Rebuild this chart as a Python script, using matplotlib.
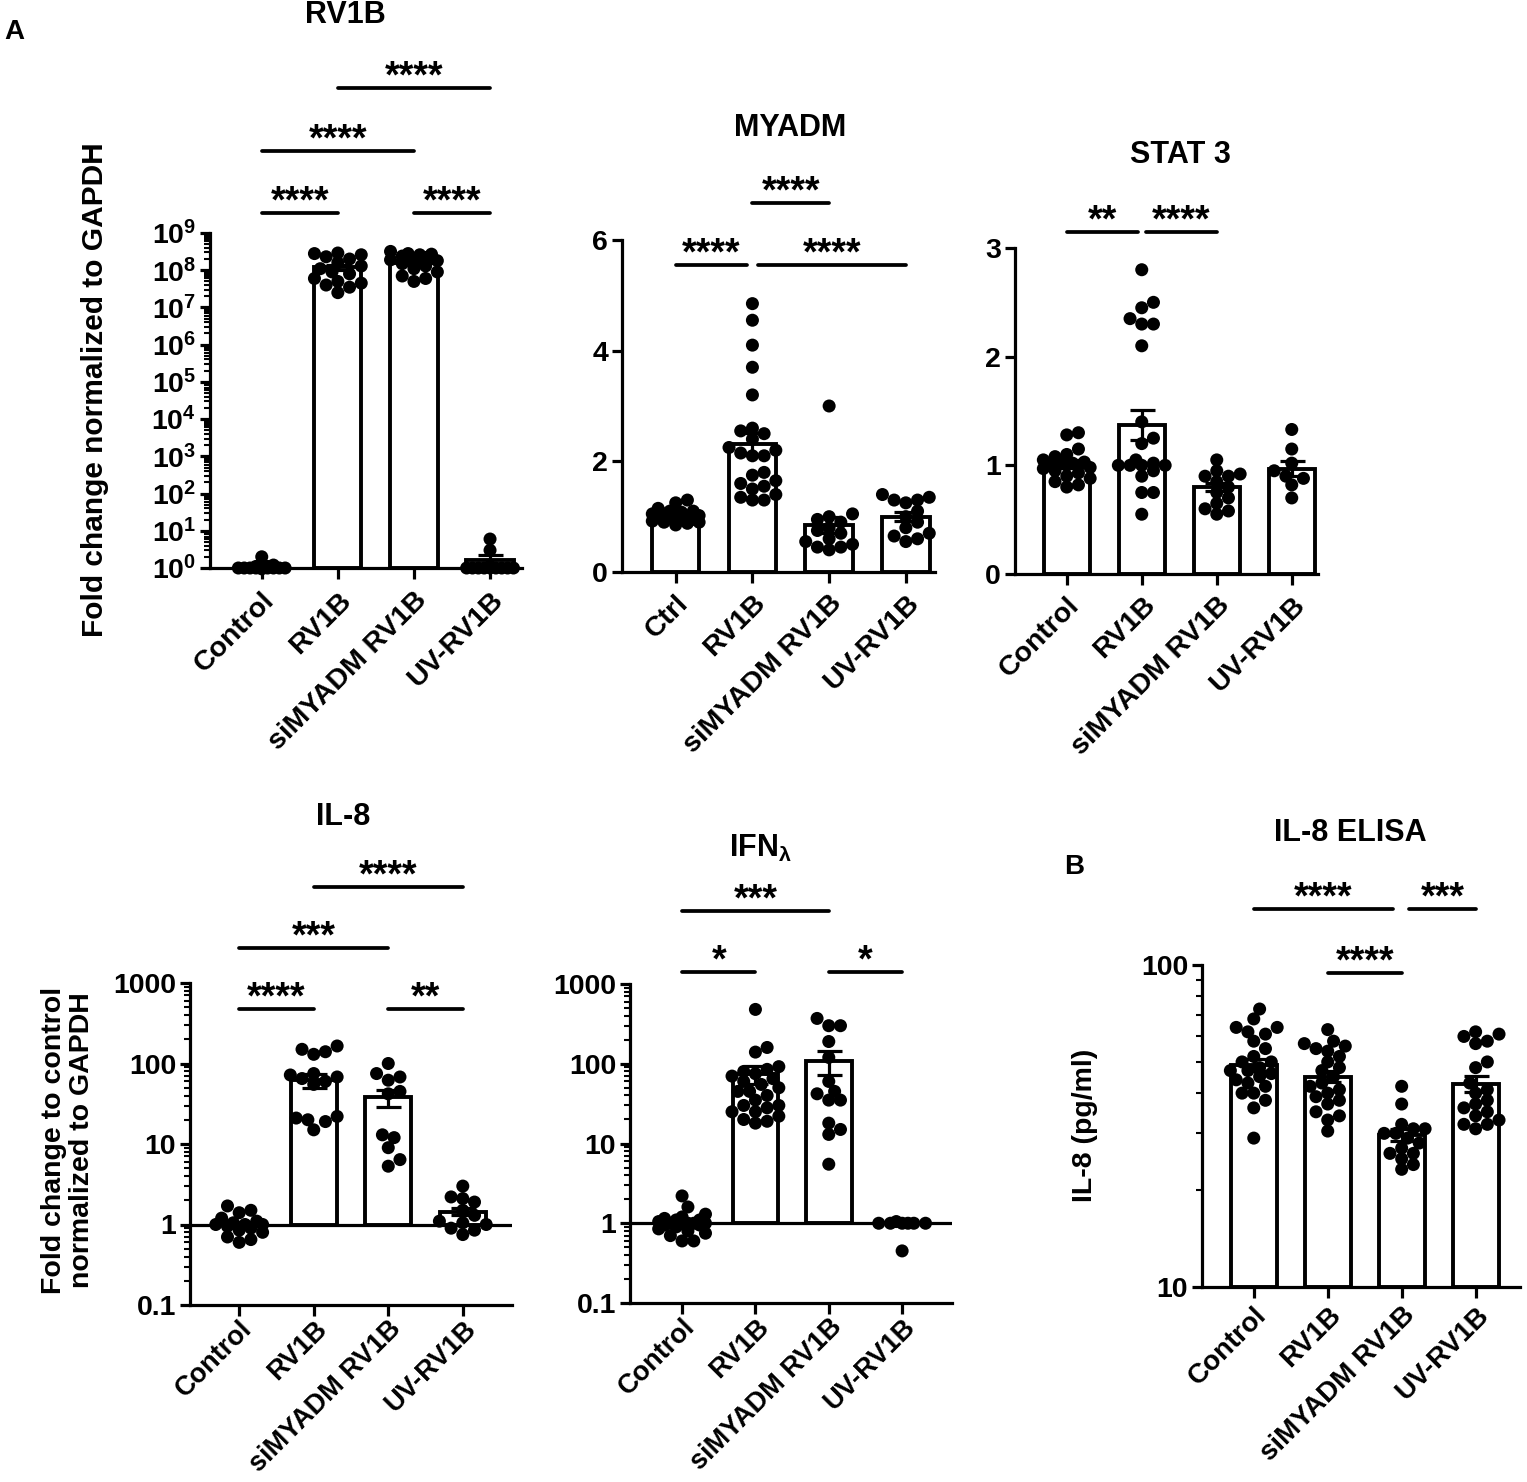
import numpy as np
import matplotlib
matplotlib.use("Agg")
import matplotlib.pyplot as plt
from matplotlib.ticker import LogLocator, NullFormatter, FixedLocator
from matplotlib.transforms import blended_transform_factory

plt.rcParams["font.family"] = ["Liberation Sans", "DejaVu Sans"]
plt.rcParams["font.weight"] = "bold"
plt.rcParams["mathtext.fontset"] = "custom"
for k in ("rm", "it", "bf", "sf"):
    plt.rcParams["mathtext." + k] = "Liberation Sans:bold"

W, H = 1527, 1482

# ---------------- data ----------------
groups = ["Control", "RV1B", "siMYADM RV1B", "UV-RV1B"]
groups_myadm = ["Ctrl", "RV1B", "siMYADM RV1B", "UV-RV1B"]

# RV1B copies (fold change, log)
rv1b_mean = [1.1, 1.2e8, 1.6e8, 1.6]
rv1b_sem = [0.06, 2.0e7, 2.0e7, 0.6]
rv1b_pts = [
    [2.0, 1.2, 1.1, 1.1, 1.05, 1.0, 1.0, 1.0, 1.0, 1.0, 1.0, 1.0, 1.0, 1.0, 0.95, 1.0],
    [2.9e8, 2.6e8, 2.3e8, 2.0e8, 2.8e8, 1.6e8, 1.3e8, 1.1e8, 9e7, 8e7, 6e7, 5e7,
     4e7, 3.5e7, 4.5e7, 2.5e7],
    [3.2e8, 2.8e8, 2.6e8, 2.4e8, 2.2e8, 2.0e8, 1.8e8, 1.5e8, 1.3e8, 1.1e8, 9e7, 7e7,
     6e7, 5e7, 2.7e8, 1.9e8],
    [6.0, 3.0, 1.1, 1.0, 1.0, 1.0, 1.0, 1.0, 1.0, 1.0, 1.0, 1.0],
]

# MYADM
myadm_mean = [1.02, 2.32, 0.85, 1.0]
myadm_sem = [0.03, 0.2, 0.15, 0.08]
myadm_pts = [
    [1.3, 1.25, 1.15, 1.1, 1.1, 1.05, 1.05, 1.02, 1.0, 1.0, 1.0, 0.98, 0.95, 0.95,
     0.92, 0.9, 0.9, 0.88, 0.85, 1.08],
    [4.85, 4.55, 4.1, 3.7, 3.2, 2.6, 2.55, 2.5, 2.4, 2.25, 2.2, 2.15, 2.1, 2.1, 1.8,
     1.75, 1.65, 1.6, 1.55, 1.5, 1.4, 1.35, 1.3, 1.3],
    [3.0, 1.05, 1.0, 0.95, 0.9, 0.8, 0.75, 0.7, 0.6, 0.55, 0.5, 0.45, 0.4, 0.45],
    [1.4, 1.35, 1.3, 1.3, 1.25, 1.1, 1.0, 0.9, 0.8, 0.7, 0.65, 0.6, 0.55],
]

# STAT 3
stat3_mean = [1.0, 1.37, 0.8, 0.97]
stat3_sem = [0.025, 0.14, 0.04, 0.07]
stat3_pts = [
    [1.3, 1.28, 1.15, 1.1, 1.08, 1.05, 1.03, 1.02, 1.0, 1.0, 1.0, 0.98, 0.97, 0.95,
     0.93, 0.9, 0.88, 0.85, 0.82, 0.8, 1.02],
    [2.8, 2.5, 2.45, 2.35, 2.3, 2.3, 2.1, 1.4, 1.25, 1.2, 1.05, 1.0, 1.0, 1.0, 1.0,
     0.95, 0.9, 0.75, 0.75, 0.55, 1.02],
    [1.05, 0.95, 0.92, 0.9, 0.9, 0.85, 0.8, 0.75, 0.7, 0.65, 0.6, 0.58, 0.55],
    [1.33, 1.15, 1.02, 0.95, 0.9, 0.88, 0.82, 0.7],
]

# IL-8 (qPCR)
il8_mean = [1.0, 62, 38, 1.45]
il8_sem = [0.07, 12, 9, 0.15]
il8_pts = [
    [1.7, 1.5, 1.4, 1.2, 1.1, 1.05, 1.0, 1.0, 1.0, 0.95, 0.9, 0.85, 0.8, 0.7, 0.65, 0.6],
    [165, 150, 140, 130, 75, 72, 68, 65, 60, 55, 22, 21, 20, 19, 15],
    [100, 75, 68, 62, 45, 42, 13, 12, 9, 6.4, 5.3],
    [3.0, 2.2, 2.1, 1.9, 1.5, 1.3, 1.1, 1.0, 0.9, 0.85, 0.75, 1.05],
]

# IFN lambda
ifn_mean = [1.0, 75, 108, 1.0]
ifn_sem = [0.08, 20, 35, 0.0]
ifn_pts = [
    [2.2, 1.6, 1.3, 1.2, 1.15, 1.1, 1.05, 1.0, 1.0, 1.0, 1.0, 1.0, 0.95, 0.9, 0.85,
     0.8, 0.75, 0.7, 0.6, 0.6, 1.1, 0.95],
    [480, 160, 140, 92, 85, 80, 75, 70, 65, 60, 55, 50, 45, 40, 35, 30, 28, 25, 22,
     20, 19, 18, 25, 30, 45],
    [370, 300, 300, 190, 120, 60, 45, 42, 35, 35, 18, 15, 13, 5.5],
    [1.05, 1.0, 1.0, 1.0, 1.0, 1.0, 1.0, 0.45],
]

# IL-8 ELISA (pg/ml)
elisa_mean = [49, 45, 29.7, 42.7]
elisa_sem = [2.0, 1.8, 1.2, 2.5]
elisa_pts = [
    [73, 68, 64, 64, 62, 61, 58, 52, 50, 50, 48, 47, 46, 45, 44, 42, 40, 40, 38, 36,
     29, 55, 47, 43],
    [63, 58, 57, 56, 55, 54, 52, 50, 48, 47, 45, 43, 42, 41, 40, 39, 38, 37, 35, 34,
     33, 30.5],
    [42, 37, 32, 31, 31, 30, 30, 29, 28, 27, 26, 26, 25, 24, 23.2],
    [62, 61, 60, 58, 57, 50, 48, 43, 41, 40, 38, 37, 36, 35, 34, 33, 32, 32, 31],
]

FS = 20.5
LW = 2.3

fig = plt.figure(figsize=(W / 100, H / 100), dpi=100)


def fx(x):
    return x / W


def fy(y):
    return 1 - y / H


def swarm(ax, x0, vals, diam=13.0, half_w=26.0):
    vals = np.asarray(vals, float)
    disp = ax.transData.transform(np.column_stack([np.full(len(vals), x0, float), vals]))
    ys = disp[:, 1]
    ppu = ax.transData.transform((x0 + 1, vals[0]))[0] - disp[0, 0]
    step = diam * 0.45
    cands = [0.0]
    for k in range(1, int(half_w / step) + 1):
        cands += [k * step, -k * step]
    placed = []
    offs = np.zeros(len(vals))
    for i in np.argsort(ys):
        best, best_d = 0.0, -1.0
        for c in cands:
            d = min((np.hypot(c - px, ys[i] - py) for px, py in placed), default=np.inf)
            if d >= diam * 0.8:
                best = c
                break
            if d > best_d:
                best, best_d = c, d
        placed.append((best, ys[i]))
        offs[i] = best
    return x0 + offs / ppu


def panel(rect, xlim, ylim, log, means, sems, pts, labels, base, yticks, yticklabels,
          baseline_line=False, xpad=5, xfs=FS):
    l, t, r, b = rect
    ax = fig.add_axes([fx(l), fy(b), fx(r - l), (b - t) / H])
    if log:
        ax.set_yscale("log")
    ax.set_xlim(*xlim)
    ax.set_ylim(*ylim)
    x = np.arange(len(means))
    ax.bar(x, np.array(means) - base, bottom=base, width=0.62, facecolor="white",
           edgecolor="black", linewidth=2.8, zorder=2)
    if baseline_line:
        ax.axhline(1, color="black", lw=LW, zorder=2.5)
    for i, p in enumerate(pts):
        xs = swarm(ax, i, p)
        ax.scatter(xs, p, s=88, color="black", edgecolors="none", zorder=3, clip_on=False)
    ax.errorbar(x, means, yerr=sems, fmt="none", ecolor="black", elinewidth=LW,
                capsize=9, capthick=LW, zorder=4)
    for s in ("top", "right"):
        ax.spines[s].set_visible(False)
    for s in ("left", "bottom"):
        ax.spines[s].set_linewidth(LW)
    ax.set_yticks(yticks)
    ax.set_yticklabels(yticklabels)
    if log:
        ax.yaxis.set_minor_locator(LogLocator(base=10, subs=np.arange(2, 10), numticks=200))
        ax.yaxis.set_minor_formatter(NullFormatter())
    else:
        ax.yaxis.set_minor_locator(FixedLocator([]))
    ax.set_xticks(x)
    ax.set_xticklabels(labels, rotation=45, ha="right", va="top", rotation_mode="anchor",
                       fontsize=xfs)
    ax.tick_params(axis="y", which="major", length=7, width=LW, labelsize=FS, pad=3)
    ax.tick_params(axis="x", which="major", length=8, width=LW, pad=xpad)
    ax.tick_params(axis="y", which="minor", length=4, width=1.5)
    return ax


def sig(ax, x1, x2, ypx, label):
    tr = blended_transform_factory(ax.transData, fig.transFigure)
    ax.plot([x1, x2], [fy(ypx), fy(ypx)], color="black", lw=LW + 0.4, transform=tr,
            clip_on=False, solid_capstyle="round")
    ax.text((x1 + x2) / 2, fy(ypx - 1), label, transform=tr, ha="center", va="baseline",
            fontsize=27, fontweight="bold")


# ---- panel: RV1B ----
ax1 = panel((210, 233, 522, 568), (-0.68, 3.42), (1, 1e9), True, rv1b_mean, rv1b_sem,
            rv1b_pts, groups, 1, [10.0 ** k for k in range(10)],
            [r"$10^{%d}$" % k for k in range(10)], xpad=6)
sig(ax1, 1, 3, 88, "****")
sig(ax1, 0, 2, 151, "****")
sig(ax1, 0, 1, 213, "****")
sig(ax1, 2, 3, 213, "****")
fig.text(fx(345), fy(15), "RV1B", ha="center", va="center", fontsize=22)
fig.text(fx(95), fy(390), "Fold change normalized to GAPDH", rotation=90, ha="center",
         va="center", fontsize=21.5)

# ---- panel: MYADM ----
ax2 = panel((622, 240, 935, 572), (-0.70, 3.38), (0, 6), False, myadm_mean, myadm_sem,
            myadm_pts, groups_myadm, 0, [0, 2, 4, 6], ["0", "2", "4", "6"])
sig(ax2, 1, 2, 203, "****")
sig(ax2, 0, 0.93, 265, "****")
sig(ax2, 1.07, 3, 265, "****")
fig.text(fx(790), fy(128), "MYADM", ha="center", va="center", fontsize=22)

# ---- panel: STAT 3 ----
ax3 = panel((1015, 248, 1318, 574), (-0.69, 3.35), (0, 3), False, stat3_mean, stat3_sem,
            stat3_pts, groups, 0, [0, 1, 2, 3], ["0", "1", "2", "3"])
sig(ax3, 0, 0.95, 232, "**")
sig(ax3, 1.05, 2, 232, "****")
fig.text(fx(1180), fy(155), "STAT 3", ha="center", va="center", fontsize=22)

# ---- panel: IL-8 ----
ax4 = panel((190, 983, 512, 1305), (-0.66, 3.66), (0.1, 1000), True, il8_mean, il8_sem,
            il8_pts, groups, 1, [0.1, 1, 10, 100, 1000], ["0.1", "1", "10", "100", "1000"],
            baseline_line=True, xpad=0, xfs=19.5)
sig(ax4, 1, 3, 887, "****")
sig(ax4, 0, 2, 948, "***")
sig(ax4, 0, 1, 1009, "****")
sig(ax4, 2, 3, 1009, "**")
fig.text(fx(343), fy(817), "IL-8", ha="center", va="center", fontsize=22)
fig.text(fx(68), fy(1140), "Fold change to control\nnormalized to GAPDH", rotation=90,
         ha="center", va="center", fontsize=FS, multialignment="center", linespacing=1.1)

# ---- panel: IFN lambda ----
ax5 = panel((630, 984, 952, 1303), (-0.71, 3.68), (0.1, 1000), True, ifn_mean, ifn_sem,
            ifn_pts, groups, 1, [0.1, 1, 10, 100, 1000], ["0.1", "1", "10", "100", "1000"],
            baseline_line=True, xpad=0, xfs=19.5)
sig(ax5, 0, 2, 911, "***")
sig(ax5, 0, 1, 972, "*")
sig(ax5, 2, 3, 972, "*")
fig.text(fx(760), fy(848), r"IFN$_{\lambda}$", ha="center", va="center", fontsize=22)

# ---- panel B: IL-8 ELISA ----
ax6 = panel((1202, 965, 1520, 1287), (-0.70, 3.6), (10, 100), True, elisa_mean, elisa_sem,
            elisa_pts, groups, 10, [10, 100], ["10", "100"], xpad=3, xfs=20)
sig(ax6, 0, 1.88, 909, "****")
sig(ax6, 2.1, 3, 909, "***")
sig(ax6, 1, 2, 973, "****")
fig.text(fx(1350), fy(833), "IL-8 ELISA", ha="center", va="center", fontsize=22)
fig.text(fx(1085), fy(1125), "IL-8 (pg/ml)", rotation=90, ha="center", va="center",
         fontsize=FS)

fig.text(fx(14), fy(32), "A", ha="center", va="center", fontsize=20)
fig.text(fx(1074), fy(867), "B", ha="center", va="center", fontsize=20)

fig.savefig("out.png", dpi=100, facecolor="white")
